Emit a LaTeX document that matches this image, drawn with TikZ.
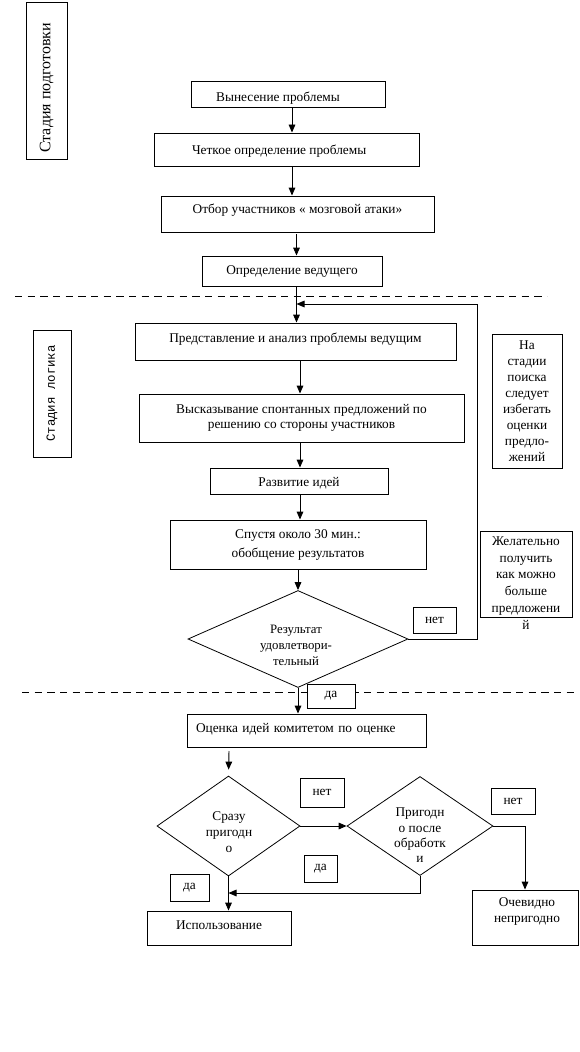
\documentclass[tikz,border=0pt]{standalone}
\usepackage{fontspec}
\setmainfont{Liberation Serif}
\newfontfamily\monofnt{Liberation Mono}
\usetikzlibrary{arrows.meta,shapes.geometric}
\begin{document}
\begin{tikzpicture}[x=0.75pt,y=-0.75pt,
  every node/.style={inner sep=0pt, font=\fontsize{10}{12}\selectfont},
  box/.style={draw, rectangle, line width=0.7pt, fill=white},
  one/.style={text height=#1, text depth=2.5pt},
  one/.default=10pt,
  wh/.style 2 args={minimum width=#1*0.75pt, minimum height=#2*0.75pt},
  dia/.style={draw, diamond, line width=0.6pt},
  arr/.style={line width=0.7pt, -{Triangle[width=5pt,length=6pt]}},
  stageline/.style={line width=0.7pt, dash pattern=on 5.5pt off 4pt},
  txt/.style={align=center}]
\useasboundingbox (0,0) rectangle (579,1052);

% stage separators
\coordinate (s1a) at (15,296);
\coordinate (s1b) at (547,296);
\coordinate (s2a) at (22,692);
\coordinate (s2b) at (579,692);
\draw[stageline] (s1a) -- (s1b);
\draw[stageline] (s2a) -- (s2b);

% side labels
\node[box, rotate=90, minimum width=157*0.75pt, minimum height=41*0.75pt,
      font=\fontsize{12}{13}\selectfont] (sA) at (46.5,80.5) {Стадия подготовки\kern11pt};
\node[box, rotate=90, minimum width=127*0.75pt, minimum height=38*0.75pt,
      font=\monofnt\fontsize{9.3}{10}\selectfont] (sB) at (52,393.5) {Стадия  логика};

% main boxes
\node[box, wh={194}{26}, one=14.5pt] (b1) at (288,94) {Вынесение проблемы\kern15pt};
\node[box, wh={265}{33}, one] (b2) at (286.5,149.5) {Четкое определение проблемы\kern11pt};
\node[box, wh={273}{36}, text height=7pt, text depth=8.5pt] (b3) at (297.5,214) {Отбор участников « мозговой атаки»};
\node[box, wh={180}{30}, one=7pt] (b4) at (292,271) {Определение ведущего};
\node[box, wh={321}{37}, text height=7pt, text depth=6.25pt] (b5) at (295.5,341.5) {Представление и анализ проблемы ведущим};
\node[box, wh={325}{48}, txt, font=\fontsize{10}{11.25}\selectfont] (b6) at (301.5,418) {Высказывание спонтанных предложений по\\решению со стороны участников};
\node[box, wh={178}{26}, one] (b7) at (299,481) {Развитие идей};
\node[box, wh={256}{49}, txt, font=\fontsize{10}{14.25}\selectfont] (b8) at (298,544.5) {Спустя около 30 мин.:\\обобщение результатов};

% first decision
\node[dia, minimum width=220*0.75pt, minimum height=97*0.75pt] (d1) at (298,639) {};
\node[txt, font=\fontsize{9.6}{12}\selectfont] (d1t) at (296,645) {Результат\\удовлетвори-\\тельный};
\node[box, wh={43}{26}] (net1) at (434.5,620) {нет};
\node[box, wh={48}{24}] (da1) at (331,696) {да};

% notes
\node[box, wh={70}{134}, txt] (nA) at (527,401) {На\\стадии\\поиска\\следует\\избегать\\оценки\\предло-\\жений};
\node[box, wh={92}{86}] (nB) at (526,574) {};
\node[txt, font=\fontsize{10}{12.6}\selectfont] (nBt) at (526,583) {Желательно\\получить\\как можно\\больше\\предложени\\й};

% evaluation
\node[box, wh={239}{33}, text width=221*0.75pt, align=left, text height=7pt, text depth=4.75pt] (b9) at (306.5,730.5) {Оценка идей комитетом по оценке};
\node[dia, minimum width=143*0.75pt, minimum height=100*0.75pt] (d2) at (228.5,826) {};
\node[txt] (d2t) at (229,832) {Сразу\\пригодн\\о};
\node[dia, minimum width=146*0.75pt, minimum height=99*0.75pt] (d3) at (420,826) {};
\node[txt, font=\fontsize{10}{11.5}\selectfont] (d3t) at (420,835.5) {Пригодн\\о после\\обработк\\и};
\node[box, wh={44}{29}] (net2) at (322,792.5) {нет};
\node[box, wh={44}{26}] (net3) at (513,801) {нет};
\node[box, wh={33}{27}] (da2) at (320.5,868.5) {да};
\node[box, wh={39}{27}] (da3) at (189.5,887.5) {да};
\node[box, wh={144}{34}, text height=7pt, text depth=5.5pt] (b10) at (219,928) {Использование};
\node[box, wh={106}{55}] (b11) at (525,917.5) {};
\node[txt] (b11t) at (527,911) {Очевидно\\непригодно};

% helper coordinates for arrow columns
\coordinate (x292) at (292,0);
\coordinate (x296) at (296.5,0);
\coordinate (x300) at (300,0);
\coordinate (fb) at (477,304);
\coordinate (fbin) at (296.5,304);
\coordinate (e1) at (229,751);
\coordinate (j) at (228.5,893);

% connectors
\draw[arr] (b1.south -| x292) -- (b2.north -| x292);
\draw[arr] (b2.south -| x292) -- (b3.north -| x292);
\draw[arr] ([yshift=-2*0.75pt]b3.south -| x296) -- (b4.north -| x296);
\draw[arr] (b4.south -| x296) -- (b5.north -| x296);
\draw[arr] (b5.south -| x300) -- (b6.north -| x300);
\draw[arr] (b6.south -| x300) -- (b7.north -| x300);
\draw[arr] (b7.south -| x300) -- (b8.north -| x300);
\draw[arr] (b8.south -| d1.north) -- (d1.north);
\draw[arr] (d1.east) -| (fb) -- (fbin);
\draw[arr] (d1.south) -- (d1.south |- b9.north);
\draw[arr, shorten >=4.5pt] (e1) -- (d2.north);
\draw[arr] (d2.east) -- (d3.west);
\draw[arr] (d2.south) -- (d2.south |- b10.north);
\draw[arr] (d3.south) |- (j);
\draw[arr] (d3.east) -| (b11.north);
\node[box, wh={48}{24}] (da1top) at (331,696) {да};
\end{tikzpicture}
\end{document}
